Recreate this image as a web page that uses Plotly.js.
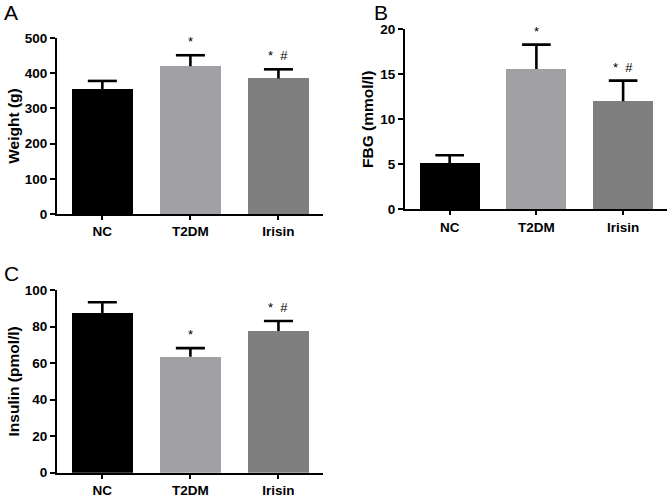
<!DOCTYPE html>
<html><head><meta charset="utf-8">
<script src="https://cdn.plot.ly/plotly-3.0.1.min.js"></script>
<style>html,body{margin:0;padding:0;background:#fff}#c{width:671px;height:497px}</style>
</head><body><div id="c"></div>
<script>
const groups = ['NC', 'T2DM', 'Irisin'];
const weightMean = [355, 420, 385];
const weightErr = [378, 451, 411];
const fbgMean = [5.1, 15.6, 12.0];
const fbgErr = [6.0, 18.3, 14.3];
const insulinMean = [87.2, 63.5, 77.6];
const insulinErr = [93.3, 68.2, 83.0];
const sigA = ['', '*', '*  #'];
const sigB = ['', '*', '*  #'];
const sigC = ['', '*', '*  #'];
const colors = ['#000000', '#a1a1a5', '#7f7f7f'];

const xs = groups.map((g,i)=>i);
const CAP = 0.165;
function barTrace(mean, xa, ya){
  return {type:'bar', x:xs, y:mean, xaxis:xa, yaxis:ya, width:0.69,
    marker:{color:colors, line:{width:0}}, showlegend:false, hoverinfo:'skip'};
}
function errTrace(mean, err, xa, ya){
  const x=[], y=[];
  xs.forEach((xi,i)=>{
    x.push(xi, xi, null, xi-CAP, xi+CAP, null);
    y.push(mean[i], err[i], null, err[i], err[i], null);
  });
  return {type:'scatter', mode:'lines', x:x, y:y, xaxis:xa, yaxis:ya,
    line:{color:'#000', width:2.6}, showlegend:false, hoverinfo:'skip', connectgaps:false};
}
const data = [
  barTrace(weightMean, 'x', 'y'), errTrace(weightMean, weightErr, 'x', 'y'),
  barTrace(fbgMean, 'x2', 'y2'), errTrace(fbgMean, fbgErr, 'x2', 'y2'),
  barTrace(insulinMean, 'x3', 'y3'), errTrace(insulinMean, insulinErr, 'x3', 'y3')
];
const font = {family:'Liberation Sans, Arial, sans-serif', color:'#000'};
function xax(dom, anchor){
  return {domain:dom, anchor:anchor, range:[-0.515, 2.506], tickvals:xs, ticktext:groups,
    showline:true, linecolor:'#000', linewidth:2, ticks:'outside', ticklen:4, tickwidth:2, tickcolor:'#000',
    showgrid:false, zeroline:false, tickfont:Object.assign({size:13.5, weight:'bold'}, font), fixedrange:true};
}
function yax(dom, anchor, range, dtick, title, standoff){
  return {domain:dom, anchor:anchor, range:range, dtick:dtick, showline:true, linecolor:'#000', linewidth:2,
    ticks:'outside', ticklen:5, tickwidth:2, tickcolor:'#000', showgrid:false, zeroline:false,
    tickfont:Object.assign({size:13.5, weight:'bold'}, font),
    title:{text:title, font:Object.assign({size:15.5, weight:'bold'}, font), standoff:standoff}};
}
const W=671, H=497;
const px = (a,b)=>[a/W, b/W];
const py = (top,bot)=>[1-bot/H, 1-top/H];
const annotations = [];
function sig(labels, err, xa, ya){
  labels.forEach((t,i)=>{ if(!t) return;
    annotations.push({x:xs[i], y:err[i], xref:xa, yref:ya, text:t, showarrow:false, yanchor:'bottom', yshift:4,
      font:Object.assign({size:13}, font)});
  });
}
sig(sigA, weightErr, 'x', 'y');
sig(sigB, fbgErr, 'x2', 'y2');
sig(sigC, insulinErr, 'x3', 'y3');
[['A',2,13],['B',372,13],['C',2,273]].forEach(([t,x,y])=>{
  annotations.push({x:x/W, y:1-y/H, xref:'paper', yref:'paper', text:t, showarrow:false, xanchor:'left', yanchor:'middle',
    font:Object.assign({size:21}, font)});
});
const layout = {
  width:W, height:H, margin:{l:0,r:0,t:0,b:0}, paper_bgcolor:'#fff', plot_bgcolor:'#fff', bargap:0,
  xaxis: xax(px(57,323), 'y'),
  yaxis: yax(py(38,214), 'x', [0,500], 100, 'Weight (g)', 1),
  xaxis2: xax(px(405,667), 'y2'),
  yaxis2: yax(py(29.3,209.3), 'x2', [0,20], 5, 'FBG (mmol/l)', 3),
  xaxis3: xax(px(57,323), 'y3'),
  yaxis3: yax(py(290,472.7), 'x3', [0,100], 20, 'Insulin (pmol/l)', 1),
  annotations: annotations
};
Plotly.newPlot('c', data, layout, {staticPlot:true});
</script></body></html>
